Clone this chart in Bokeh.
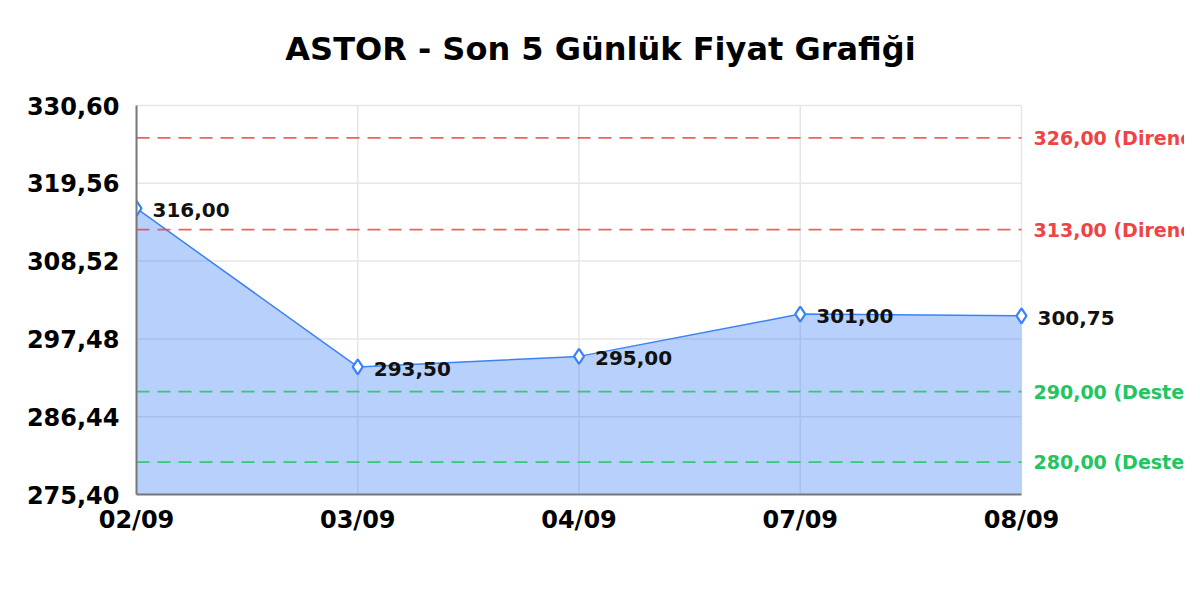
from bokeh.plotting import figure
from bokeh.models import (Range1d, FixedTicker, CustomJSTickFormatter, Label,
                          ColumnDataSource)
from bokeh.core.properties import value
from bokeh.embed import file_html
from bokeh.resources import INLINE

# ---- data ----
title_text = "ASTOR - Son 5 Günlük Fiyat Grafiği"
dates = ["02/09", "03/09", "04/09", "07/09", "08/09"]
prices = [316.00, 293.50, 295.00, 301.00, 300.75]
y_ticks = [275.40, 286.44, 297.48, 308.52, 319.56, 330.60]
resistance_levels = [326.00, 313.00]
support_levels = [290.00, 280.00]
resistance_name = "Direnç"
support_name = "Destek"

# ---- style / layout ----
FONT = "DejaVu Sans"
BLUE = "#3b82f6"
RED = "#ef4444"
GREEN = "#22c55e"
GRID = "#e6e6e6"
W, H = 1184, 584
PLOT_L, PLOT_R, PLOT_T, PLOT_B = 136, 1021, 105, 494   # drawn plot area (px)
TITLE_CX, TITLE_CY = 600, 48

def tr(v):
    return f"{v:.2f}".replace(".", ",")

idx = list(range(len(dates)))
x0, x1 = idx[0], idx[-1]
y0, y1 = y_ticks[0], y_ticks[-1]

# frame reaches the canvas top and right so outside texts are not clipped
px_per_x = (PLOT_R - PLOT_L) / (x1 - x0)
px_per_y = (PLOT_B - PLOT_T) / (y1 - y0)
x_end = x0 + (W - PLOT_L) / px_per_x
y_end = y0 + PLOT_B / px_per_y

src = ColumnDataSource(dict(x=idx, y=prices, base=[y0] * len(idx),
                            lbl=[tr(v) for v in prices]))

p = figure(width=W, height=H, output_backend="svg", toolbar_location=None,
           x_range=Range1d(x0, x_end), y_range=Range1d(y0, y_end),
           min_border_left=PLOT_L, min_border_right=0, min_border_top=0,
           min_border_bottom=H - PLOT_B)
p.title.visible = False
p.outline_line_color = None
p.background_fill_color = "white"
p.border_fill_color = "white"
p.xgrid.visible = False
p.ygrid.visible = False

# axes
p.xaxis.ticker = FixedTicker(ticks=idx)
p.xaxis.major_label_overrides = {i: d for i, d in zip(idx, dates)}
p.xaxis.bounds = (x0, x1)
p.yaxis.ticker = FixedTicker(ticks=y_ticks)
p.yaxis.formatter = CustomJSTickFormatter(code="return tick.toFixed(2).replace('.', ',');")
p.yaxis.bounds = (y0, y1)
for ax in (p.xaxis, p.yaxis):
    ax.major_label_text_font = FONT
    ax.major_label_text_font_style = "bold"
    ax.major_label_text_font_size = "24px"
    ax.major_label_text_color = "black"
    ax.major_tick_line_color = None
    ax.minor_tick_line_color = None
    ax.axis_line_color = "#777777"
    ax.axis_line_width = 2
p.yaxis.major_label_standoff = 11
p.xaxis.major_label_standoff = 5

# grid lines limited to the plot area
p.segment(x0=[x0] * len(y_ticks), x1=[x1] * len(y_ticks), y0=y_ticks, y1=y_ticks,
          line_color=GRID, line_width=1.5)
p.segment(x0=idx, x1=idx, y0=[y0] * len(idx), y1=[y1] * len(idx),
          line_color=GRID, line_width=1.5)

# area + line + markers
p.varea(x="x", y1="base", y2="y", source=src, fill_color=BLUE, fill_alpha=0.37)
p.line(x="x", y="y", source=src, line_color=BLUE, line_width=1.5)

# support / resistance levels
for lv_list, col, name in ((resistance_levels, RED, resistance_name),
                           (support_levels, GREEN, support_name)):
    n = len(lv_list)
    p.segment(x0=[x0] * n, x1=[x1] * n, y0=lv_list, y1=lv_list, line_color=col,
              line_alpha=0.85, line_width=1.7, line_dash="13 8")
    p.text(x=[x1] * n, y=lv_list, text=[f"{tr(v)} ({name})" for v in lv_list],
           x_offset=12, text_font=value(FONT), text_font_style="bold",
           text_font_size="19px", text_color=col, text_baseline="middle",
           text_align="left")

p.scatter(x="x", y="y", source=src, marker="diamond", size=15,
          fill_color="white", line_color=BLUE, line_width=2.2)

# value labels
p.text(x="x", y="y", text="lbl", source=src, x_offset=16, y_offset=2,
       text_font=value(FONT), text_font_style="bold", text_font_size="20px",
       text_color="#111111", text_baseline="middle", text_align="left")

# title (centred on the page)
p.add_layout(Label(x=TITLE_CX - PLOT_L, y=PLOT_B - TITLE_CY, x_units="screen",
                   y_units="screen", text=title_text, text_font=FONT,
                   text_font_style="bold", text_font_size="32px", text_color="black",
                   text_align="center", text_baseline="middle"))

open("out.html", "w").write(file_html(p, INLINE))
